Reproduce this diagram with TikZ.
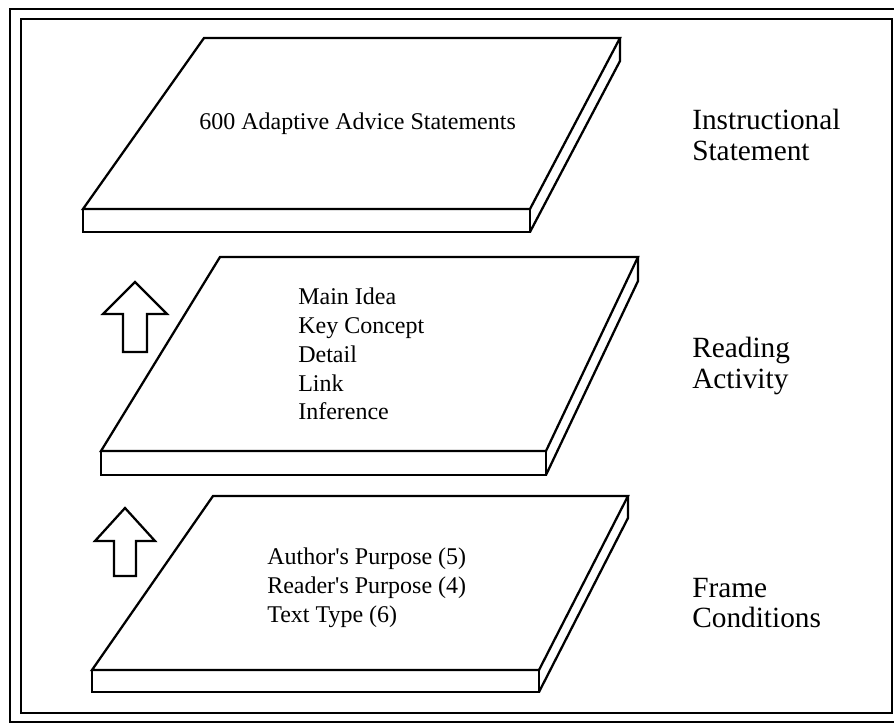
\documentclass[tikz,border=0pt]{standalone}
\usepackage{fontspec}
\setmainfont{Liberation Serif}
\usetikzlibrary{positioning}

\begin{document}
\begin{tikzpicture}[
  x=0.75pt, y=-0.75pt,
  edge/.style={line width=1.7pt, line join=miter},
  item/.style={font=\fontsize{18}{21.6}\selectfont, align=left, anchor=west, inner sep=0pt},
  layer/.style={font=\fontsize{22}{23}\selectfont, align=left, anchor=west, inner sep=0pt}
]
\useasboundingbox (0,0) rectangle (894,727);
% double frame
\draw[edge] (10,9) rectangle (903,722);
\draw[edge] (21,19) rectangle (892,713);
% slabs: top face, front face, side face
\foreach \lx/\rx/\ty/\blx/\brx/\by/\thk in {204/620/38/83/530/209/23, 220/638/257/101/546/451/24, 213/628/496/92/539/670/22}{
  \draw[edge] (\lx,\ty) -- (\rx,\ty) -- (\brx,\by) -- (\blx,\by) -- cycle;
  \draw[edge] (\blx,\by) -- (\blx,\by+\thk) -- (\brx,\by+\thk) -- (\brx,\by);
  \draw[edge] (\brx,\by+\thk) -- (\rx,\ty+\thk) -- (\rx,\ty);
}
% hollow arrows between the layers
\foreach \cx/\tip/\base/\bot/\hw/\sw in {135/282/314/352/32/12, 125/508/541/576/30/11}{
  \draw[edge] (\cx,\tip) -- (\cx+\hw,\base) -- (\cx+\sw,\base) -- (\cx+\sw,\bot)
    -- (\cx-\sw,\bot) -- (\cx-\sw,\base) -- (\cx-\hw,\base) -- cycle;
}
% slab contents
\node[item] (advice) at (199,124) {600 Adaptive Advice Statements};
\node[item] (activities) at (298,354) {Main Idea\\Key Concept\\Detail\\Link\\Inference};
\node[item] (conditions) at (267,588) {Author\textquotesingle s Purpose (5)\\Reader\textquotesingle s Purpose (4)\\Text Type (6)};
% layer names
\node[layer] (instr) at (692,135) {Instructional\\Statement};
\node[layer] (reading) at (692,366) {Reading\\Activity};
\node[layer] (frame) at (692,603) {Frame\\Conditions};
\end{tikzpicture}
\end{document}
